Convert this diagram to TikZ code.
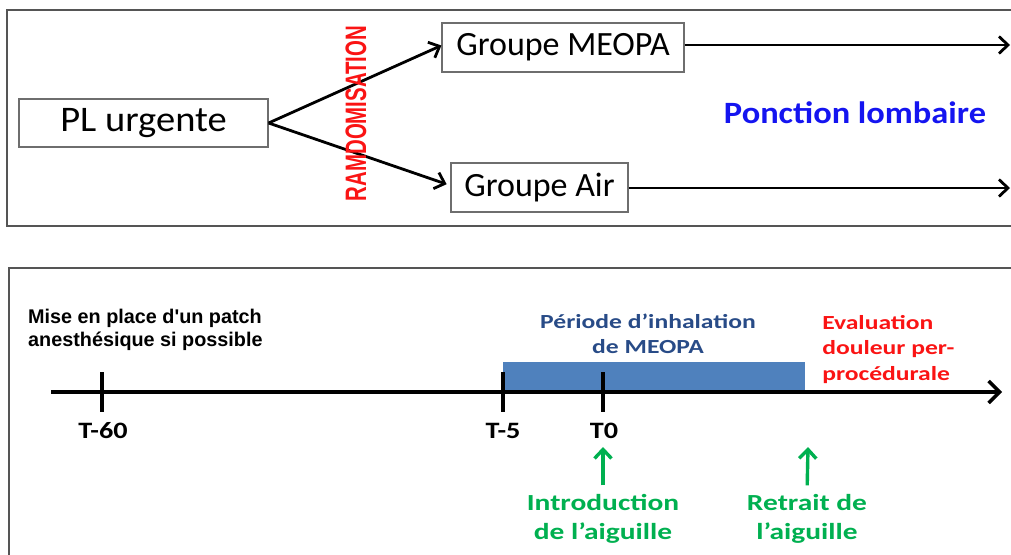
\documentclass[tikz,border=0pt]{standalone}
\usepackage{fontspec}
\setmainfont{Carlito}
\newfontfamily\arialf{Liberation Sans}
\usetikzlibrary{arrows.meta}
\definecolor{framegray}{RGB}{85,85,85}
\definecolor{boxgray}{RGB}{110,110,110}
\definecolor{pblue}{RGB}{20,20,240}
\definecolor{rred}{RGB}{250,20,20}
\definecolor{barblue}{RGB}{79,129,189}
\definecolor{dblue}{RGB}{40,75,135}
\definecolor{ggreen}{RGB}{0,176,80}
\begin{document}
\begin{tikzpicture}[x=1pt,y=1pt,
  panel/.style={draw=framegray, line width=1.6pt},
  gbox/.style={draw=boxgray, line width=1.2pt, fill=white, inner sep=0pt, font=\fontsize{34}{38}\selectfont},
  flow/.style={draw=black, line width=2.8pt, -{Straight Barb[length=9pt,width=17pt,line width=2.8pt]}},
  axisline/.style={draw=black, line width=3.4pt, -{Straight Barb[length=11pt,width=22pt,line width=3.4pt]}},
  tickline/.style={draw=black, line width=3.2pt},
  tlabel/.style={inner sep=0pt, xscale=1.2, font=\bfseries\fontsize{23.5}{26}\selectfont},
  cbold/.style={inner sep=0pt, xscale=1.28, font=\bfseries\fontsize{20}{25.5}\selectfont},
  gbold/.style={inner sep=0pt, xscale=1.28, text=ggreen, align=center, font=\bfseries\fontsize{23}{28.7}\selectfont},
  garr/.style={draw=ggreen, line width=3.4pt, -{Straight Barb[length=9pt,width=17pt,line width=3.4pt]}}
]
\useasboundingbox (0,0) rectangle (1011,-554);
\clip (0,0) rectangle (1011,-554);

% ---------- top panel ----------
\draw[panel] (7,-10) rectangle (1025,-226);

\node[gbox, minimum width=249pt, minimum height=48pt] (pl) at (143.5,-123) {\scalebox{1.07}[1]{\fontsize{36}{40}\selectfont PL urgente}};
\node[gbox, minimum width=242pt, minimum height=49pt] (meopa) at (563,-47.5) {Groupe MEOPA};
\node[gbox, minimum width=177pt, minimum height=49pt] (air) at (539.5,-187.5) {Groupe Air};

\draw[flow] (pl.east) -- ([yshift=2pt]meopa.west);
\draw[flow, shorten >=4pt] (pl.east) -- ([yshift=2pt]air.west);

\coordinate (endA) at (1010,-45);
\coordinate (endB) at (1010,-188);
\draw[flow] (meopa.east |- endA) -- (endA);
\draw[flow] (air.east |- endB) -- (endB);

\node[rotate=90, text=rred, inner sep=0pt, font=\arialf\bfseries\fontsize{20.4}{22}\selectfont] (rand) at (356,-113.5) {\scalebox{1}[1.45]{RAMDOMISATION}};

\node[text=pblue, inner sep=0pt, xscale=1.11, font=\bfseries\fontsize{31}{34}\selectfont] (pl2) at (855,-113) {Ponction lombaire};

% ---------- bottom panel ----------
\draw[panel] (9,-268) rectangle (1025,-575);

\node[anchor=west, align=left, inner sep=0pt, font=\arialf\bfseries\fontsize{19.8}{23.5}\selectfont] (patch) at (28,-329.7) {Mise en place d\textquotesingle un patch\\anesthésique si possible};

\node[fill=barblue, inner sep=0pt, minimum width=302pt, minimum height=30pt, anchor=south west] (bar) at (503,-392) {};

\coordinate (ax0) at (51,-392);
\coordinate (ax1) at (1002,-392);
\draw[axisline] (ax0) -- (ax1);

\coordinate (c60) at (102,-392);
\coordinate (c5) at (503,-392);
\coordinate (c0) at (603,-392);
\foreach \c in {c60,c5,c0}
  \draw[tickline] ([yshift=20pt]\c) -- ([yshift=-20pt]\c);

\node[tlabel] (l60) at (103,-431) {T-60};
\node[tlabel] (l5) at (503,-431) {T-5};
\node[tlabel] (l0) at (604,-431) {T0};

\node[cbold, text=dblue, align=center] (periode) at (648,-334) {Période d’inhalation\\de MEOPA};
\node[cbold, text=rred, align=left, anchor=west] (eval) at (822,-349.5) {Evaluation\\douleur per-\\procédurale};

\node[gbold] (intro) at (603,-519) {Introduction\\de l’aiguille};
\node[gbold] (retrait) at (807,-519) {Retrait de\\l’aiguille};

\coordinate (a0) at (603,-447);
\coordinate (a1) at (808,-447);
\draw[garr, shorten <=9pt] (intro.north) -- (a0);
\draw[garr, shorten <=9pt] (retrait.north |- intro.north) -- (a1);
\end{tikzpicture}
\end{document}
